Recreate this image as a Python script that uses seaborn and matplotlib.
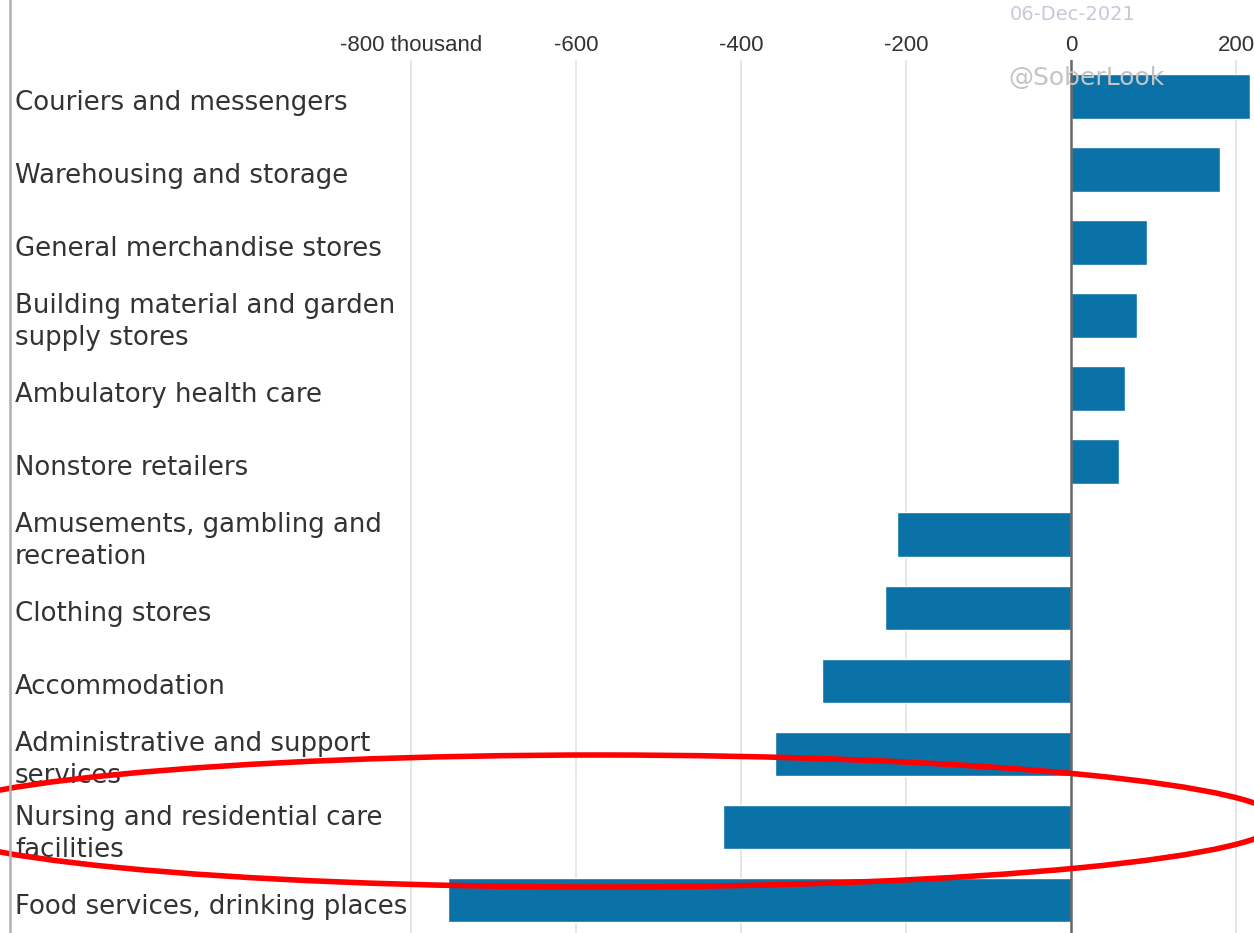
import matplotlib
matplotlib.use("Agg")
import matplotlib.pyplot as plt
import matplotlib.transforms as mtransforms
from matplotlib.patches import Ellipse
from matplotlib.lines import Line2D
import seaborn as sns
import pandas as pd

categories = [
    "Couriers and messengers",
    "Warehousing and storage",
    "General merchandise stores",
    "Building material and garden\nsupply stores",
    "Ambulatory health care",
    "Nonstore retailers",
    "Amusements, gambling and\nrecreation",
    "Clothing stores",
    "Accommodation",
    "Administrative and support\nservices",
    "Nursing and residential care\nfacilities",
    "Food services, drinking places",
]
values = [217, 180, 92, 80, 65, 58, -211, -225, -302, -359, -422, -755]
tick_values = [-800, -600, -400, -200, 0, 200]
tick_labels = ["-800 thousand", "-600", "-400", "-200", "0", "200"]

sns.set_theme(style="white")
plt.rcParams["font.family"] = ["DejaVu Sans"]

W, H = 1254, 933
fig = plt.figure(figsize=(W / 100, H / 100), dpi=100)
ax = fig.add_axes([0, 0, 1, 1 - 60 / H])

df = pd.DataFrame({"category": categories, "value": values})
sns.barplot(data=df, x="value", y="category", color="#0b72a8", width=0.61,
            saturation=1, ax=ax, zorder=2)

px = 0.825  # pixels per unit
ax.set_xlim((0 - 1071) / px, (W - 1071) / px)
ax.set_ylim(11.5 - 3.5 / 73, -0.5)

ax.set_xticks(tick_values)
ax.set_xticklabels(tick_labels)
ax.xaxis.tick_top()
ax.tick_params(axis="x", length=0, pad=3, labelsize=16, labelcolor="#333333")
for t in ax.get_xticklabels():
    t.set_family(["Liberation Sans Narrow", "Liberation Sans", "DejaVu Sans"])
ax.set_yticks([])
ax.set_xlabel("")
ax.set_ylabel("")
for s in ax.spines.values():
    s.set_visible(False)

for v in tick_values:
    if v != 0:
        ax.axvline(v, color="#e2e2e2", lw=1.2, zorder=0)
ax.axvline(0, color="#666666", lw=1.8, zorder=3)

trans = mtransforms.blended_transform_factory(ax.transAxes, ax.transData)
for i, lab in enumerate(categories):
    ax.text(15 / W, i + 0.09, lab, transform=trans, ha="left", va="center",
            fontsize=18.7, color="#333333", linespacing=1.3)

# left border
fig.add_artist(Line2D([10 / W, 10 / W], [0, 1], color="#b0b0b0", lw=1.8,
                      transform=fig.transFigure))

# watermarks
fig.text(1073 / W, 1 - 14 / H, "06-Dec-2021", ha="center", va="center",
         fontsize=14, color="#c8c8d8")
fig.text(1008 / W, 1 - 78 / H, "@SoberLook", ha="left", va="center",
         fontsize=18, color="#c4c4c4", zorder=0.5)

# red ellipse annotation
ell = Ellipse((600 / W, 1 - 821 / H), 1360 / W, 132 / H, fill=False,
              edgecolor="#ff0000", lw=4, transform=fig.transFigure)
fig.add_artist(ell)

fig.savefig("out.png", dpi=100)
